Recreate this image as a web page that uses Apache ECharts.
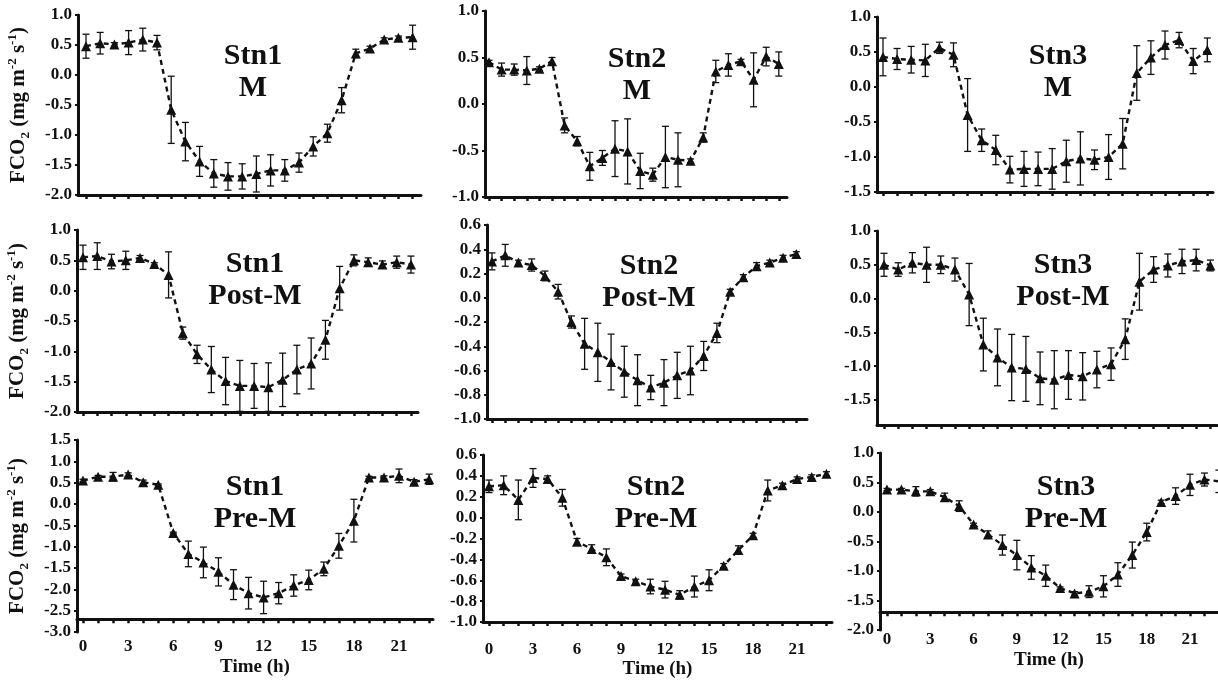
<!DOCTYPE html>
<html lang="en">
<head>
    <meta charset="UTF-8">
    <title>FCO2 diurnal cycles</title>
    <script src="https://cdn.jsdelivr.net/npm/echarts@6/dist/echarts.min.js"></script>
    <style>
        html, body { margin: 0; padding: 0; background: #fff; }
        #chart { width: 1218px; height: 680px; }
    </style>
</head>
<body>
<div id="chart"></div>
<script>
    // hours of the day
    const hours = [0, 1, 2, 3, 4, 5, 6, 7, 8, 9, 10, 11, 12, 13, 14, 15, 16, 17, 18, 19, 20, 21, 22, 23];
    const hourLabels = [0, 3, 6, 9, 12, 15, 18, 21];

    // tick labels on the y axes
    const ticksStn1 = [-2.0, -1.5, -1.0, -0.5, 0.0, 0.5, 1.0];
    const ticksStn2 = [-1.0, -0.5, 0.0, 0.5, 1.0];
    const ticksStn3 = [-1.5, -1.0, -0.5, 0.0, 0.5, 1.0];
    const ticksFine = [-1.0, -0.8, -0.6, -0.4, -0.2, 0.0, 0.2, 0.4, 0.6];
    const ticksStn1Pre = [-3.0, -2.5, -2.0, -1.5, -1.0, -0.5, 0.0, 0.5, 1.0, 1.5];
    const ticksStn3Pre = [-2.0, -1.5, -1.0, -0.5, 0.0, 0.5, 1.0];

    // monsoon (M)
    const stn1M = [0.48, 0.53, 0.51, 0.54, 0.59, 0.54, -0.58, -1.11, -1.44, -1.64, -1.69, -1.69, -1.65, -1.59, -1.59, -1.46, -1.19, -0.97, -0.42, 0.36, 0.44, 0.59, 0.62, 0.63];
    const stn1MErr = [0.2, 0.18, 0.03, 0.2, 0.19, 0.12, 0.56, 0.32, 0.25, 0.23, 0.23, 0.21, 0.3, 0.26, 0.18, 0.16, 0.16, 0.15, 0.21, 0.07, 0.04, 0.03, 0.03, 0.2];
    const stn2M = [0.45, 0.37, 0.37, 0.36, 0.38, 0.46, -0.23, -0.40, -0.67, -0.58, -0.48, -0.51, -0.72, -0.76, -0.57, -0.60, -0.61, -0.36, 0.35, 0.42, 0.46, 0.26, 0.51, 0.43];
    const stn2MErr = [0.02, 0.07, 0.06, 0.15, 0.02, 0.04, 0.08, 0.05, 0.15, 0.08, 0.3, 0.35, 0.19, 0.07, 0.33, 0.29, 0.02, 0.05, 0.12, 0.12, 0.02, 0.29, 0.1, 0.13];
    const stn3M = [0.43, 0.40, 0.39, 0.38, 0.56, 0.46, -0.40, -0.76, -0.90, -1.18, -1.17, -1.17, -1.17, -1.06, -1.02, -1.04, -1.00, -0.81, 0.20, 0.42, 0.60, 0.67, 0.37, 0.53];
    const stn3MErr = [0.27, 0.15, 0.19, 0.23, 0.08, 0.17, 0.52, 0.16, 0.21, 0.19, 0.25, 0.24, 0.29, 0.30, 0.38, 0.14, 0.32, 0.36, 0.39, 0.24, 0.2, 0.11, 0.18, 0.17];

    // post-monsoon
    const stn1Post = [0.55, 0.57, 0.48, 0.50, 0.54, 0.44, 0.26, -0.70, -1.05, -1.30, -1.49, -1.57, -1.57, -1.59, -1.47, -1.30, -1.20, -0.81, 0.04, 0.50, 0.47, 0.43, 0.47, 0.43];
    const stn1PostErr = [0.2, 0.22, 0.12, 0.15, 0.04, 0.02, 0.38, 0.1, 0.15, 0.38, 0.39, 0.42, 0.37, 0.4, 0.44, 0.4, 0.42, 0.32, 0.36, 0.09, 0.07, 0.06, 0.1, 0.14];
    const stn2Post = [0.30, 0.35, 0.29, 0.27, 0.18, 0.05, -0.20, -0.38, -0.45, -0.53, -0.61, -0.68, -0.74, -0.70, -0.64, -0.60, -0.48, -0.29, 0.05, 0.17, 0.26, 0.29, 0.33, 0.36];
    const stn2PostErr = [0.07, 0.09, 0.02, 0.05, 0.04, 0.06, 0.05, 0.21, 0.24, 0.23, 0.21, 0.21, 0.1, 0.19, 0.19, 0.2, 0.12, 0.08, 0.02, 0.02, 0.03, 0.02, 0.02, 0.02];
    const stn3Post = [0.50, 0.43, 0.53, 0.50, 0.50, 0.43, 0.06, -0.68, -0.87, -1.02, -1.04, -1.18, -1.20, -1.13, -1.15, -1.05, -0.97, -0.60, 0.25, 0.43, 0.49, 0.55, 0.57, 0.49];
    const stn3PostErr = [0.17, 0.1, 0.15, 0.26, 0.13, 0.17, 0.46, 0.39, 0.42, 0.49, 0.48, 0.39, 0.43, 0.36, 0.35, 0.27, 0.24, 0.3, 0.42, 0.19, 0.17, 0.18, 0.16, 0.08];

    // pre-monsoon
    const stn1Pre = [0.55, 0.64, 0.64, 0.69, 0.51, 0.45, -0.68, -1.17, -1.37, -1.59, -1.89, -2.09, -2.19, -2.09, -1.91, -1.78, -1.52, -0.98, -0.39, 0.62, 0.62, 0.66, 0.52, 0.58];
    const stn1PreErr = [0.03, 0.03, 0.1, 0.04, 0.05, 0.02, 0.02, 0.3, 0.36, 0.33, 0.35, 0.37, 0.38, 0.25, 0.25, 0.23, 0.16, 0.29, 0.5, 0.03, 0.04, 0.16, 0.05, 0.12];
    const stn2Pre = [0.30, 0.31, 0.17, 0.38, 0.37, 0.19, -0.23, -0.30, -0.38, -0.56, -0.61, -0.66, -0.69, -0.74, -0.66, -0.60, -0.46, -0.31, -0.17, 0.26, 0.31, 0.37, 0.39, 0.42];
    const stn2PreErr = [0.06, 0.09, 0.19, 0.09, 0.03, 0.08, 0.03, 0.04, 0.08, 0.02, 0.02, 0.07, 0.08, 0.04, 0.1, 0.1, 0.02, 0.04, 0.02, 0.1, 0.02, 0.02, 0.02, 0.02];
    const stn3Pre = [0.38, 0.38, 0.35, 0.35, 0.25, 0.10, -0.21, -0.38, -0.56, -0.73, -0.94, -1.08, -1.29, -1.38, -1.35, -1.26, -1.06, -0.73, -0.34, 0.17, 0.27, 0.46, 0.55, 0.52];
    const stn3PreErr = [0.02, 0.02, 0.08, 0.03, 0.07, 0.09, 0.02, 0.06, 0.17, 0.25, 0.2, 0.18, 0.02, 0.03, 0.1, 0.18, 0.2, 0.22, 0.15, 0.03, 0.14, 0.18, 0.11, 0.19];

    const FONT = '"Liberation Serif", "Times New Roman", serif';
    const INK = '#111';

    // panel layout: box = [left, top, right, bottom] in px, h0 = px of hour 0, pph = px per hour
    const panels = [
        {title: 'Stn1\nM', v: stn1M, e: stn1MErr, yMin: -2, yMax: 1, ticks: ticksStn1, xAt: -2, box: [78, 15, 421, 195], h0: 86, pph: 14.2, tx: 248, ty: 35, col: 0, row: 0},
        {title: 'Stn2\nM', v: stn2M, e: stn2MErr, yMin: -1, yMax: 1, ticks: ticksStn2, xAt: -1, box: [485, 11, 787, 197], h0: 489, pph: 12.6, tx: 632, ty: 38, col: 1, row: 0},
        {title: 'Stn3\nM', v: stn3M, e: stn3MErr, yMin: -1.5, yMax: 1, ticks: ticksStn3, xAt: -1.5, box: [877, 17, 1213, 192], h0: 883, pph: 14.1, tx: 1053, ty: 35, col: 2, row: 0},
        {title: 'Stn1\nPost-M', v: stn1Post, e: stn1PostErr, yMin: -2, yMax: 1, ticks: ticksStn1, xAt: -2, box: [77, 230, 418, 412], h0: 83, pph: 14.26, tx: 250, ty: 243, col: 0, row: 1},
        {title: 'Stn2\nPost-M', v: stn2Post, e: stn2PostErr, yMin: -1, yMax: 0.6, ticks: ticksFine, xAt: -1, box: [487, 225, 807, 419], h0: 492, pph: 13.23, tx: 644, ty: 245, col: 1, row: 1},
        {title: 'Stn3\nPost-M', v: stn3Post, e: stn3PostErr, yMin: -1.87, yMax: 1, ticks: ticksStn3, xAt: -1.87, box: [877, 231, 1217, 425], h0: 884, pph: 14.19, tx: 1058, ty: 244, col: 2, row: 1},
        {title: 'Stn1\nPre-M', v: stn1Pre, e: stn1PreErr, yMin: -3, yMax: 1.5, ticks: ticksStn1Pre, xAt: -2.7, box: [77, 440, 433, 632], h0: 83, pph: 15.05, tx: 250, ty: 466, col: 0, row: 2},
        {title: 'Stn2\nPre-M', v: stn2Pre, e: stn2PreErr, yMin: -1, yMax: 0.6, ticks: ticksFine, xAt: -1, box: [483, 455, 832, 622], h0: 489, pph: 14.67, tx: 651, ty: 466, col: 1, row: 2},
        {title: 'Stn3\nPre-M', v: stn3Pre, e: stn3PreErr, yMin: -2, yMax: 1, ticks: ticksStn3Pre, xAt: -1.7, box: [880, 453, 1218, 630], h0: 887, pph: 14.43, tx: 1061, ty: 466, col: 2, row: 2}
    ];

    function renderErrorBar(params, api) {
        const x = api.value(0);
        const lo = api.coord([x, api.value(1)]);
        const hi = api.coord([x, api.value(2)]);
        const w = 3.5;
        const st = {stroke: INK, lineWidth: 1.3};
        return {
            type: 'group',
            children: [
                {type: 'line', shape: {x1: lo[0], y1: lo[1], x2: hi[0], y2: hi[1]}, style: st},
                {type: 'line', shape: {x1: lo[0] - w, y1: lo[1], x2: lo[0] + w, y2: lo[1]}, style: st},
                {type: 'line', shape: {x1: hi[0] - w, y1: hi[1], x2: hi[0] + w, y2: hi[1]}, style: st}
            ]
        };
    }

    const grids = [], xAxes = [], yAxes = [], series = [], titles = [];

    panels.forEach((p, i) => {
        const [left, top, right, bottom] = p.box;
        const height = bottom - top;
        const xMin = -(p.h0 - left) / p.pph;
        const xMax = xMin + (right - left) / p.pph;
        const offset = -(p.xAt - p.yMin) / (p.yMax - p.yMin) * height;
        const isBottom = p.row === 2;

        grids.push({left: left, top: top, width: right - left, height: height, containLabel: false, outerBoundsMode: 'none'});

        xAxes.push({
            gridIndex: i, type: 'value', min: xMin, max: xMax, offset: offset,
            axisLine: {onZero: false, lineStyle: {color: INK, width: 3}},
            axisTick: {show: true, customValues: hours, length: 4, lineStyle: {color: INK, width: 2.5}},
            axisLabel: {show: isBottom, customValues: hourLabels, margin: 19, color: INK,
                fontFamily: FONT, fontWeight: 'bold', fontSize: 17},
            splitLine: {show: false},
            name: isBottom ? 'Time (h)' : '',
            nameLocation: 'middle', nameGap: 38,
            nameTextStyle: {color: INK, fontFamily: FONT, fontWeight: 'bold', fontSize: 19}
        });

        yAxes.push({
            gridIndex: i, type: 'value', min: p.yMin, max: p.yMax,
            axisLine: {onZero: false, lineStyle: {color: INK, width: 3}},
            axisTick: {show: true, customValues: p.ticks, length: 3, lineStyle: {color: INK, width: 2}},
            axisLabel: {customValues: p.ticks, margin: 6, color: INK, fontFamily: FONT,
                fontWeight: 'bold', fontSize: 17, formatter: v => v.toFixed(1)},
            splitLine: {show: false},
            name: p.col === 0 ? 'FCO{sub|2} (mg m{sup|-2} s{sup|-1})' : '',
            nameLocation: 'middle', nameRotate: 90, nameGap: 46,
            nameTextStyle: {
                color: INK, fontFamily: FONT, fontWeight: 'bold', fontSize: 21, lineHeight: 26,
                rich: {
                    sub: {fontFamily: FONT, fontWeight: 'bold', fontSize: 13, lineHeight: 13, verticalAlign: 'bottom', color: INK},
                    sup: {fontFamily: FONT, fontWeight: 'bold', fontSize: 13, lineHeight: 13, verticalAlign: 'top', color: INK}
                }
            }
        });

        series.push({
            type: 'custom', xAxisIndex: i, yAxisIndex: i,
            renderItem: renderErrorBar,
            encode: {x: 0, y: [1, 2]},
            data: hours.map((h, k) => [h, p.v[k] - p.e[k], p.v[k] + p.e[k]]),
            z: 2
        });

        series.push({
            type: 'line', xAxisIndex: i, yAxisIndex: i,
            data: hours.map((h, k) => [h, p.v[k]]),
            symbol: 'triangle', symbolSize: 10, showSymbol: true,
            itemStyle: {color: INK},
            lineStyle: {color: INK, width: 2.4, type: [5, 4]},
            z: 3
        });

        titles.push({
            text: p.title, left: p.tx, top: p.ty, textAlign: 'center',
            textStyle: {color: INK, fontFamily: FONT, fontWeight: 'bold', fontSize: 30, lineHeight: 32}
        });
    });

    const chart = echarts.init(document.getElementById('chart'));
    chart.setOption({
        animation: false,
        backgroundColor: '#fff',
        title: titles,
        grid: grids,
        xAxis: xAxes,
        yAxis: yAxes,
        series: series
    });
</script>
</body>
</html>
